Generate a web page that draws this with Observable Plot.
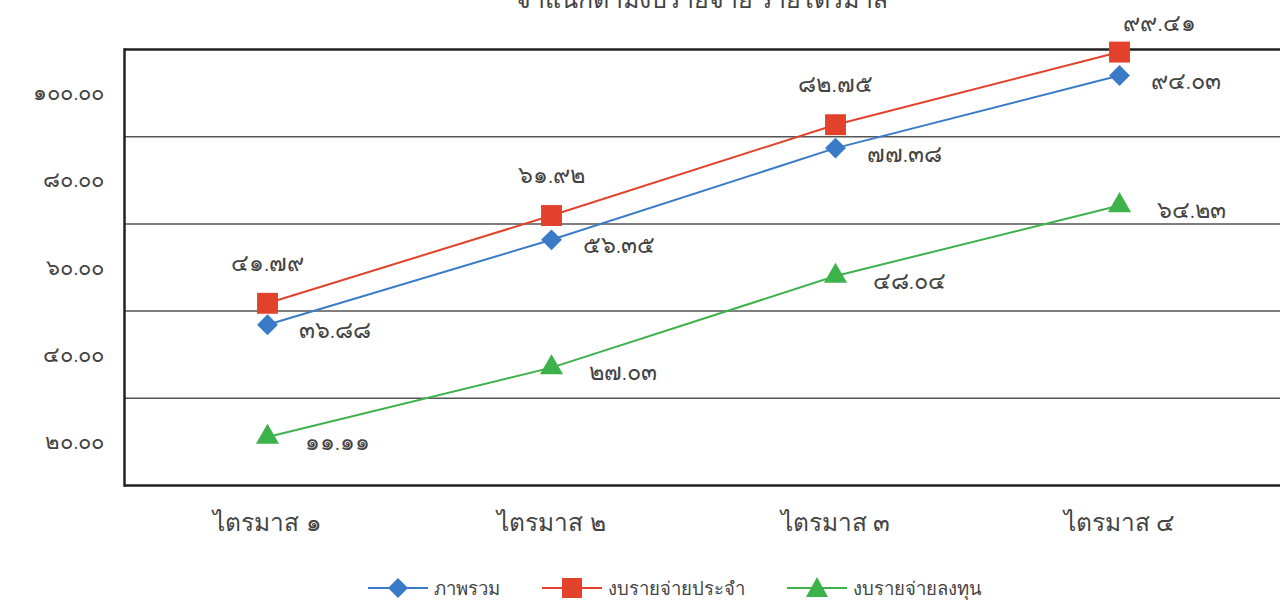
<!DOCTYPE html>
<html>
<head>
<meta charset="utf-8">
<script src="https://cdn.jsdelivr.net/npm/d3@7"></script>
<script src="https://cdn.jsdelivr.net/npm/@observablehq/plot@0.6"></script>
<style>
  html, body { margin: 0; padding: 0; background: #fff; overflow: hidden; }
  body { width: 1280px; height: 601px; position: relative; font-family: "Noto Sans", sans-serif; }
  #title { position: absolute; top: -21px; width: 1280px; text-align: center; left: 62px; font-size: 25px; color: #444; font-weight: 300; }
  #legend { position: absolute; top: 572px; left: 0; width: 1280px; height: 32px; display: flex; justify-content: center; align-items: center; gap: 42px; font-size: 18.5px; color: #444; padding-left: 70px; box-sizing: border-box; font-weight: 300; }
  .item { display: flex; align-items: center; gap: 6px; }
  svg text { font-weight: 300; }
</style>
</head>
<body>
<div id="title">จำแนกตามงบรายจ่าย รายไตรมาส</div>
<div id="chart"></div>
<div id="legend"></div>
<script>
const quarters = ["ไตรมาส ๑", "ไตรมาส ๒", "ไตรมาส ๓", "ไตรมาส ๔"];
const overall = [36.88, 56.35, 77.38, 94.03];
const regular = [41.79, 61.92, 82.75, 99.41];
const invest = [11.11, 27.03, 48.04, 64.23];
const seriesNames = ["ภาพรวม", "งบรายจ่ายประจำ", "งบรายจ่ายลงทุน"];
const yTicks = [10, 30, 50, 70, 90];
const yTickLabels = ["๒๐.๐๐", "๔๐.๐๐", "๖๐.๐๐", "๘๐.๐๐", "๑๐๐.๐๐"];
const gridValues = [20, 40, 60, 80];

const colors = ["#3a7bc8", "#e2412b", "#3db24b"];
const symbols = ["diamond2", "square", "triangle"];
const radii = [9.4, 11.8, 8.6];

const thaiDigits = "๐๑๒๓๔๕๖๗๘๙";
const toThai = s => String(s).replace(/[0-9]/g, d => thaiDigits[+d]);

const rows = (vals) => quarters.map((q, i) => ({q, v: vals[i], label: toThai(vals[i].toFixed(2)), i}));
const dO = rows(overall), dR = rows(regular), dI = rows(invest);

const font = "Noto Sans, sans-serif";
const labelSize = 23.5;

const chart = Plot.plot({
  width: 1280,
  height: 565,
  marginTop: 49,
  marginBottom: 80,
  marginLeft: 124,
  marginRight: 0,
  style: {fontFamily: font, background: "white"},
  x: {type: "point", domain: quarters, range: [266, 1120], padding: 0, axis: null},
  y: {domain: [0, 100], axis: null},
  marks: [
    Plot.ruleY(gridValues, {stroke: "#555", strokeWidth: 1.5}),
    Plot.ruleY([0, 100], {stroke: "#222", strokeWidth: 2.5}),
    Plot.frame({anchor: "left", stroke: "#222", strokeWidth: 2.5}),
    Plot.axisY(yTicks, {tickSize: 0, tickPadding: 0, dx: -20, tickFormat: (d, i) => yTickLabels[i], fontSize: 22, fill: "#444", label: null}),
    Plot.axisX(quarters, {tickSize: 0, tickPadding: 28, fontSize: 24.5, fill: "#444", label: null}),
    Plot.line(dI, {x: "q", y: "v", stroke: colors[2], strokeWidth: 2}),
    Plot.line(dO, {x: "q", y: "v", stroke: colors[0], strokeWidth: 2}),
    Plot.line(dR, {x: "q", y: "v", stroke: colors[1], strokeWidth: 2}),
    Plot.dot(dI, {x: "q", y: "v", symbol: symbols[2], r: radii[2], fill: colors[2], stroke: "none"}),
    Plot.dot(dO, {x: "q", y: "v", symbol: symbols[0], r: radii[0], fill: colors[0], stroke: "none"}),
    Plot.dot(dR, {x: "q", y: "v", symbol: symbols[1], r: radii[1], fill: colors[1], stroke: "none"}),
    Plot.text(dR.filter(d => d.i < 3), {x: "q", y: "v", text: "label", dy: -40, fontSize: labelSize, fill: "#444"}),
    Plot.text(dR.filter(d => d.i === 3), {x: "q", y: "v", text: "label", dx: 40, dy: -29, fontSize: labelSize, fill: "#444"}),
    Plot.text(dO, {x: "q", y: "v", text: "label", textAnchor: "start", dx: 31, dy: 6, fontSize: labelSize, fill: "#444"}),
    Plot.text(dI, {x: "q", y: "v", text: "label", textAnchor: "start", dx: 37, dy: 5, fontSize: labelSize, fill: "#444"})
  ]
});
document.getElementById("chart").appendChild(chart);

// legend
const legend = document.getElementById("legend");
const symPaths = [
  `<path d="M30,5 L40,15 L30,25 L20,15 Z" />`,
  `<rect x="20" y="5" width="20" height="20" />`,
  `<path d="M30,4 L41,24 L19,24 Z" />`
];
seriesNames.forEach((name, i) => {
  const el = document.createElement("div");
  el.className = "item";
  el.innerHTML = `<svg width="60" height="30"><line x1="0" x2="60" y1="15" y2="15" stroke="${colors[i]}" stroke-width="2"/><g fill="${colors[i]}">${symPaths[i]}</g></svg><span>${name}</span>`;
  legend.appendChild(el);
});
</script>
</body>
</html>
